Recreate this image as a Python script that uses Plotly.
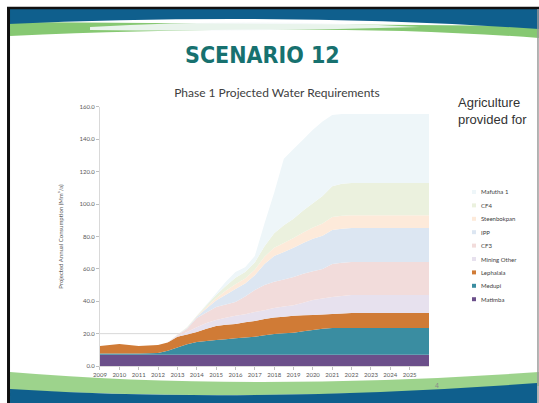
import plotly.graph_objects as go

# ---------------- data ----------------
years = [2009, 2010, 2011, 2012, 2012.5, 2013, 2013.5, 2014, 2014.5, 2015, 2015.5,
         2016, 2016.5, 2017, 2017.5, 2018, 2018.5, 2019, 2019.5, 2020, 2020.5,
         2021, 2021.5, 2022, 2026]
matimba = [7.0, 7.0, 7.0, 7.0, 7.0, 7.0, 7.0, 7.0, 7.0, 7.0, 7.0, 7.0, 7.0,
           7.0, 7.0, 7.0, 7.0, 7.0, 7.0, 7.0, 7.0, 7.0, 7.0, 7.0, 7.0]
medupi = [0.8, 0.8, 0.8, 1.0, 2.5, 4.5, 6.5, 7.8, 8.5, 9.0, 9.5, 10.2, 10.6,
          11.0, 12.0, 12.8, 13.2, 13.5, 14.5, 15.3, 16.0, 16.5, 16.5, 16.5, 16.5]
lephalala = [4.5, 5.8, 4.5, 5.0, 5.0, 6.5, 6.0, 6.2, 7.5, 8.7, 9.0, 8.8, 9.4,
             9.8, 10.0, 10.2, 10.3, 10.5, 9.8, 9.2, 8.8, 8.7, 9.0, 9.2, 9.2]
mining_other = [0, 0, 0, 0, 0, 0.5, 1.5, 3.0, 3.5, 3.7, 4.3, 5.0, 5.0,
                5.5, 5.5, 5.8, 6.3, 6.6, 7.7, 9.2, 9.9, 10.4, 10.8, 11.1, 11.1]
cf3 = [0, 0, 0, 0, 0, 0.5, 2.0, 5.6, 6.5, 8.0, 8.2, 8.5, 11.0,
       13.7, 15.5, 16.2, 16.7, 17.4, 18.0, 17.9, 18.3, 20.4, 20.5, 20.4, 20.4]
ipp = [0, 0, 0, 0, 0, 0.3, 0.5, 0.8, 2.5, 4.0, 6.0, 8.0, 8.0,
       9.0, 13.0, 16.0, 17.0, 18.0, 19.0, 20.0, 20.5, 21.0, 21.0, 21.0, 21.0]
steenbokpan = [0, 0, 0, 0, 0, 0.1, 0.2, 0.3, 1.0, 1.5, 2.5, 3.0, 3.0,
               3.5, 4.5, 5.0, 5.5, 6.0, 6.5, 7.0, 7.5, 8.0, 8.0, 8.0, 8.0]
cf4 = [0, 0, 0, 0, 0, 0.1, 0.2, 0.3, 1.0, 2.0, 3.0, 4.0, 4.0,
       4.5, 6.5, 9.0, 11.0, 12.0, 13.5, 15.0, 17.0, 19.0, 19.8, 19.8, 19.8]
mafutha = [0, 0, 0, 0, 0, 0, 0.1, 0, 0.5, 1.1, 2.5, 3.5, 3.0,
           4.0, 14.0, 25.0, 41.0, 43.0, 44.0, 45.4, 46.0, 44.0, 43.0, 42.6, 42.6]

series_names = ["Matimba", "Medupi", "Lephalala", "Mining Other", "CF3", "IPP",
                "Steenbokpan", "CF4", "Mafutha 1"]
series_values = [matimba, medupi, lephalala, mining_other, cf3, ipp,
                 steenbokpan, cf4, mafutha]
series_colors = ["#6B4F8A", "#3A8DA1", "#D07B36", "#E7E1EE", "#F2DCDB", "#DCE6F2",
                 "#FDEADA", "#EBF1DE", "#EEF6F9"]

x_ticks = list(range(2009, 2026))
y_ticks = [0, 20, 40, 60, 80, 100, 120, 140, 160]
grid_value = 20

W, H = 539, 403


def px(x):
    return round(x / W, 4)


def py(y):
    return round(1 - y / H, 4)


fig = go.Figure()
for name, vals, col in zip(series_names, series_values, series_colors):
    fig.add_trace(go.Scatter(
        x=years, y=vals, name=name, mode="none", stackgroup="one",
        fillcolor=col, line=dict(width=0), hoverinfo="skip", showlegend=False))

tick_font = dict(family="Lato, Open Sans, sans-serif", size=6, color="#595959")

shapes = []
# faint gridline at 20
shapes.append(dict(type="line", xref="x domain", yref="y", x0=0, x1=1,
                   y0=grid_value, y1=grid_value,
                   line=dict(color="#D9D9D9", width=1), layer="below"))
# bottom green swoosh
shapes.append(dict(type="path", xref="paper", yref="paper",
                   path=f"M{px(10)},{py(372)} Q{px(250)},{py(392)} "
                        f"{px(539)},{py(372)} L{px(539)},{py(386)} "
                        f"Q{px(250)},{py(402)} {px(10)},{py(390)} Z",
                   fillcolor="#8CCB78", line=dict(width=0), layer="above", opacity=0.85))
# bottom blue band
shapes.append(dict(type="path", xref="paper", yref="paper",
                   path=f"M{px(10)},{py(403)} L{px(10)},{py(389)} "
                        f"Q{px(250)},{py(404)} {px(537)},{py(383)} "
                        f"L{px(537)},{py(403)} Z",
                   fillcolor="#0F5F8D", line=dict(width=0), layer="above"))
# top green swoosh
shapes.append(dict(type="path", xref="paper", yref="paper",
                   path=f"M{px(10)},{py(22)} L{px(539)},{py(26)} "
                        f"L{px(539)},{py(38)} Q{px(330)},{py(22)} {px(10)},{py(36)} Z",
                   fillcolor="#86C872", line=dict(width=0), layer="above"))
# top white highlight
shapes.append(dict(type="path", xref="paper", yref="paper",
                   path=f"M{px(90)},{py(27)} Q{px(250)},{py(18)} "
                        f"{px(420)},{py(27)} Q{px(250)},{py(32)} "
                        f"{px(90)},{py(30)} Z",
                   fillcolor="#F4F8FA", line=dict(width=0), layer="above", opacity=0.9))
# top blue band
shapes.append(dict(type="path", xref="paper", yref="paper",
                   path=f"M{px(8)},{py(8)} L{px(539)},{py(8)} L{px(539)},{py(29)} "
                        f"Q{px(280)},{py(12)} {px(8)},{py(24)} Z",
                   fillcolor="#0F5F8D", line=dict(width=0), layer="above"))
# frame lines
shapes.append(dict(type="line", xref="paper", yref="paper",
                   x0=px(7), x1=1.0, y0=py(8), y1=py(8),
                   line=dict(color="#111111", width=2.5), layer="above"))
shapes.append(dict(type="line", xref="paper", yref="paper",
                   x0=px(8.5), x1=px(8.5), y0=0.0, y1=py(7),
                   line=dict(color="#111111", width=3), layer="above"))
shapes.append(dict(type="line", xref="paper", yref="paper",
                   x0=px(538), x1=px(538), y0=0.0, y1=py(9),
                   line=dict(color="#9A9A9A", width=1.5), layer="above"))

# manual legend (built from series lists)
annotations = []
leg_top = 192
leg_step = 13.4
for i, (name, col) in enumerate(zip(reversed(series_names), reversed(series_colors))):
    yc = leg_top + i * leg_step
    shapes.append(dict(type="rect", xref="paper", yref="paper",
                       x0=px(472), x1=px(476), y0=py(yc + 2), y1=py(yc - 2),
                       fillcolor=col, line=dict(width=0)))
    annotations.append(dict(text=name, xref="paper", yref="paper",
                            x=px(479), y=py(yc), xanchor="left", yanchor="middle",
                            showarrow=False,
                            font=dict(family="Lato, sans-serif", size=6, color="#404040")))

annotations.append(dict(text="SCENARIO 12", xref="paper", yref="paper",
                        x=px(263), y=py(55), xanchor="center", yanchor="middle",
                        showarrow=False,
                        font=dict(family="DejaVu Sans Condensed, Liberation Sans Narrow, sans-serif",
                                  size=23, color="#17716F", weight="bold")))
annotations.append(dict(text="Agriculture<br>provided for", xref="paper", yref="paper",
                        x=px(456), y=py(111), xanchor="left", yanchor="middle", align="left",
                        showarrow=False,
                        font=dict(family="Liberation Sans, Arial, sans-serif", size=13,
                                  color="#333333")))
annotations.append(dict(text="4", xref="paper", yref="paper",
                        x=px(437), y=py(386), xanchor="center", yanchor="middle",
                        showarrow=False,
                        font=dict(family="Liberation Sans, sans-serif", size=7, color="#8A8A8A")))

fig.update_layout(
    width=W, height=H,
    margin=dict(l=0, r=0, t=0, b=0),
    paper_bgcolor="white", plot_bgcolor="white",
    showlegend=False,
    xaxis=dict(domain=[px(100), px(429)], range=[2009, 2026],
               tickmode="array", tickvals=x_ticks, ticktext=[str(v) for v in x_ticks],
               ticks="outside", ticklen=3, tickcolor="#BFBFBF",
               showline=True, linecolor="#D9D9D9", showgrid=False, zeroline=False,
               tickfont=tick_font, automargin=False),
    yaxis=dict(domain=[py(366), py(107)], range=[0, 160],
               tickmode="array", tickvals=y_ticks,
               ticktext=[f"{v:.1f}" for v in y_ticks],
               ticks="outside", ticklen=3, tickcolor="#BFBFBF",
               showline=True, linecolor="#D9D9D9", showgrid=False, zeroline=False,
               tickfont=tick_font, automargin=False,
               title=dict(text="Projected Annual Consumption (Mm³/a)",
                          font=dict(family="Lato, sans-serif", size=6, color="#595959"))),
    title=dict(text="Phase 1 Projected Water Requirements",
               x=px(277), xanchor="center", y=py(93), yanchor="middle",
               font=dict(family="Lato, Open Sans, sans-serif", size=12, color="#404040")),
    shapes=shapes, annotations=annotations,
)

fig.write_html("out.html", config={"displayModeBar": False},
               post_script="document.body.style.margin='0';"
                           "document.body.style.overflow='hidden';")
